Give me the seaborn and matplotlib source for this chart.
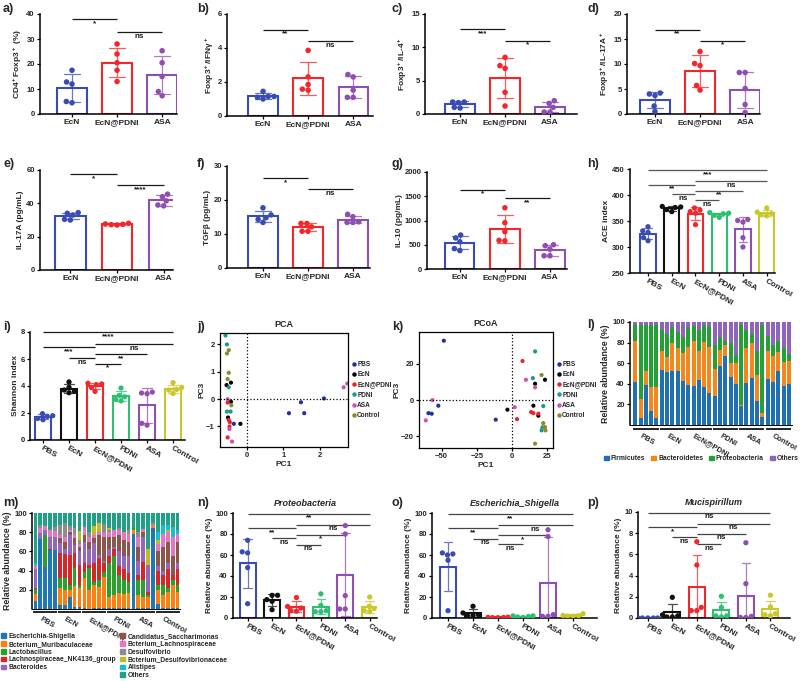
import numpy as np
import pandas as pd
import matplotlib
matplotlib.use("Agg")
import matplotlib.pyplot as plt
import seaborn as sns
from matplotlib.lines import Line2D
from matplotlib.patches import Patch
import warnings
warnings.filterwarnings("ignore")

sns.set_theme(style="ticks")
plt.rcParams['font.family'] = ['Liberation Sans', 'DejaVu Sans']
plt.rcParams['font.weight'] = 'bold'
plt.rcParams['axes.labelweight'] = 'bold'
plt.rcParams['axes.titleweight'] = 'bold'
plt.rcParams['mathtext.fontset'] = 'custom'
plt.rcParams['mathtext.rm'] = 'Liberation Sans:bold'
plt.rcParams['mathtext.bf'] = 'Liberation Sans:bold'
plt.rcParams['mathtext.it'] = 'Liberation Sans:italic:bold'
plt.rcParams['mathtext.default'] = 'rm'

# ----------------------------- data -----------------------------
G3 = ["EcN", "EcN@PDNI", "ASA"]
G6 = ["PBS", "EcN", "EcN@PDNI", "PDNI", "ASA", "Control"]

a_vals = [[17.5, 12.8, 12.0, 4.5, 5.0], [28.0, 24.0, 20.5, 17.5, 13.0], [25.3, 20.5, 15.0, 9.0, 7.3]]
b_vals = [[1.45, 1.15, 1.15, 1.10, 1.00], [3.86, 2.30, 1.85, 1.58, 1.52], [2.44, 2.30, 1.52, 1.10, 1.10]]
c_vals = [[1.8, 1.8, 1.7, 1.0, 0.9], [8.5, 7.25, 6.85, 3.25, 1.2], [2.0, 1.6, 1.0, 0.3, 0.3]]
d_vals = [[4.2, 4.0, 3.7, 1.6, 0.5], [12.5, 10.1, 9.7, 5.7, 4.8], [8.3, 8.3, 5.1, 1.9, 0.3]]
e_vals = [[34.4, 34.0, 33.0, 30.4, 30.0], [28.0, 27.6, 27.4, 27.2, 27.0], [45.5, 44.0, 41.5, 39.0, 38.5]]
f_vals = [[17.7, 15.6, 14.8, 14.3, 13.4], [13.1, 13.1, 12.1, 10.8, 10.8], [15.8, 15.1, 13.6, 13.4, 13.4]]
g_vals = [[700, 640, 560, 420, 380], [1262, 955, 770, 590, 580], [500, 480, 410, 273, 273]]
h_vals = [[339, 331, 328, 318, 312], [378, 377, 376, 372, 368], [375, 371, 368, 365, 343],
          [366, 365, 364, 361, 357], [353, 351, 348, 318, 300], [375, 367, 364, 362, 360]]
i_vals = [[1.95, 1.8, 1.75, 1.6, 1.5], [4.3, 3.9, 3.7, 3.6, 3.5], [4.2, 4.15, 4.1, 3.9, 3.6],
          [3.85, 3.3, 3.2, 3.0, 2.9], [3.55, 3.48, 3.43, 1.23, 1.1], [4.25, 3.9, 3.75, 3.7, 3.45]]
n_vals = [[74, 63, 62, 48, 13.6], [21.6, 21.6, 17.5, 15.9, 7.9], [19.5, 11, 9.5, 7, 6.5],
          [23, 12, 7, 6, 6], [88, 80, 21.3, 8.6, 8.6], [20, 11, 9, 7, 6]]
o_vals = [[62, 61, 60, 55, 7], [11.2, 4.8, 3.2, 2.2, 2.2], [0.8, 0.6, 0.5, 0.4, 0.3],
          [2, 2, 1.5, 1, 0.5], [84, 77.6, 3.2, 1.6, 1.6], [4.1, 2.5, 2.2, 1.8, 1.6]]
p_vals = [[0, 0, 0, 0, 0], [1.95, 0.3, 0.2, 0.1, 0.1], [7.2, 5.0, 1.0, 0.7, 0.7],
          [2.05, 1.0, 0.2, 0.2, 0.1], [7.1, 3.24, 0.15, 0.05, 0.05], [2.15, 1.05, 0.4, 0.3, 0.2]]

# significance annotations: (group i, group j, height, label)
a_sig = [(0, 1, 37.9, '*'), (1, 2, 32.9, 'ns')]
b_sig = [(0, 1, 5.07, '**'), (1, 2, 4.39, 'ns')]
c_sig = [(0, 1, 12.7, '***'), (1, 2, 11.0, '*')]
d_sig = [(0, 1, 16.9, '**'), (1, 2, 14.7, '*')]
e_sig = [(0, 1, 57.6, '*'), (1, 2, 51.0, '****')]
f_sig = [(0, 1, 26.4, '*'), (1, 2, 23.2, 'ns')]
g_sig = [(0, 1, 1638, '*'), (1, 2, 1454, '**')]
h_sig = [(0, 5, 448, '***'), (2, 5, 427, 'ns'), (0, 2, 420, '**'), (2, 4, 408, '**'), (1, 2, 401, 'ns'), (2, 3, 390, 'ns')]
i_sig = [(0, 5, 8.0, '****'), (2, 5, 7.13, 'ns'), (0, 2, 6.86, '***'), (2, 4, 6.37, '**'), (1, 2, 6.05, 'ns'), (2, 3, 5.64, '*')]
n_sig = [(0, 5, 99.4, '**'), (2, 5, 89, 'ns'), (0, 2, 85.7, '**'), (2, 4, 79.4, '*'), (1, 2, 76, 'ns'), (2, 3, 70, 'ns')]
o_sig = [(0, 5, 99, '**'), (2, 5, 88.8, 'ns'), (0, 2, 85.3, '**'), (2, 4, 79, '*'), (1, 2, 75.7, 'ns'), (2, 3, 70.3, 'ns')]
p_sig = [(0, 5, 9.95, 'ns'), (2, 5, 8.9, 'ns'), (0, 2, 8.58, '*'), (2, 4, 7.96, 'ns'), (1, 2, 7.64, 'ns'), (2, 3, 7.0, 'ns')]

# PCA / PCoA coordinates per group (PBS, EcN, EcN@PDNI, PDNI, ASA, Control)
j_pc1 = [[-0.36, 1.48, 1.15, 1.57, 2.11], [-0.56, -0.44, -0.44, -0.52, -0.18], [-0.53, -0.50, -0.47, -0.48, -0.53],
         [-0.59, -0.55, -0.50, -0.55, -0.45], [-0.53, -0.48, -0.41, 2.65, 2.75], [-0.55, -0.50, -0.50, -0.53, -0.43]]
j_pc3 = [[-0.91, -0.12, -0.52, -0.52, 0.02], [0.51, 0.60, -0.10, -0.68, -0.91], [-0.13, -0.77, -0.85, -1.01, -1.41],
         [2.33, 2.00, 0.43, -0.46, -0.46], [-0.01, -1.10, -1.56, 0.43, 0.57], [1.67, 1.79, 0.96, 0.73, -0.23]]
k_pc1 = [[-48.4, -52.3, -59.3, -57.0, -11.6], [-3.3, 15.1, 16.3, 23.3, 18.6], [7.4, 3.5, 13.5, 15.1, 18.6],
         [16.3, 14.7, 22.1, 20.9, 21.5], [-56.5, -61.2, 1.9, 9.8, 16.3], [20.9, 22.1, 23.3, 23.7, 16.3]]
k_pc3 = [[32.7, -3.1, -7.2, -7.5, -10.8], [-5.3, -3.1, 9.0, 11.2, -8.6], [21.5, -10.5, -6.6, -7.2, -7.5],
         [26.8, 12.1, -3.3, -16.7, -15.0], [0.0, -11.2, -3.9, 11.2, 7.0], [13.8, -12.7, -14.9, -16.7, -24.0]]

# l) phylum-level relative abundance, 30 samples (5 per group)
phyla = ["Firmicutes", "Bacteroidetes", "Proteobacteria", "Others"]
firmicutes = [42, 7, 39, 14, 7, 53, 51, 52, 52, 43, 39, 38, 44, 37, 31, 28, 57, 67, 47, 40, 18, 41, 46, 23, 8, 45, 42, 52, 38, 40]
bacteroidetes = [40, 18, 13, 23, 30, 19, 15, 28, 23, 27, 37, 44, 28, 44, 45, 26, 16, 11, 13, 20, 1.5, 34, 34, 26, 3.5, 27, 25, 19, 23, 22]
proteobacteria = [15, 72, 45, 60, 60, 20, 22, 15, 15, 15, 19, 14, 20, 16, 19, 24, 12, 4, 20, 8, 77.5, 17, 8, 23, 85.5, 14, 11, 11, 14, 7]
phylum_others = [3, 3, 3, 3, 3, 8, 12, 5, 10, 15, 5, 4, 8, 3, 5, 22, 15, 18, 20, 32, 3, 8, 12, 28, 3, 14, 22, 18, 25, 31]

# m) genus-level relative abundance
genera = ["Escherichia-Shigella", "Bcterium_Muribaculaceae", "Lactobacillus", "Lachnospiraceae_NK4136_group",
          "Bacteroides", "Candidatus_Saccharimonas", "Bcterium_Lachnospiraceae", "Desulfovibrio",
          "Bcterium_Desulfovibrionaceae", "Alistipes", "Others"]
esch = [8, 72.5, 44, 61, 61, 4, 4, 13, 2, 2, 1.5, 0.5, 1.5, 1.5, 1.5, 1, 1, 1, 1, 1, 78, 1, 1, 1, 84, 5, 1, 1, 1, 1]
muri = [8, 0, 0, 0, 0, 17.5, 16, 7, 22, 19.5, 30.5, 19.5, 23.5, 21.5, 32, 11, 14, 16, 15, 16, 4, 14, 11, 12, 2, 15, 14, 17, 24, 17]
lacto = [4.5, 0, 33, 0, 0, 10.5, 12, 5, 18.5, 3.5, 7, 22.5, 3.6, 7, 5, 36, 40, 18, 14, 11, 3, 15, 18, 2, 0, 5, 10, 4, 5, 7]
lachno = [1, 0, 0, 1.5, 0, 26, 25, 31, 15.5, 21, 9, 3.5, 19, 23, 9, 7, 7, 10, 12, 10, 0, 5, 19, 3, 0, 15, 10, 20, 5, 17]
bacteroides = [20, 6.5, 5, 12.5, 14, 10.5, 6, 21, 9, 14, 22, 17, 21, 3, 3, 7, 3, 15, 13, 17, 0, 15, 26, 28, 0, 5, 5, 6, 0, 6]
candidatus = [0, 0, 0, 0, 0, 5.5, 7, 3, 7, 5, 7, 7, 5.4, 21, 24.5, 13, 10, 17, 17, 15, 0, 15, 5, 0, 0, 15, 25, 22, 20, 22]
b_lachno = [3.5, 5, 4, 7, 6, 3, 5, 2.5, 3, 3, 8, 5, 3, 3, 4, 5, 7, 5, 8, 8, 0, 10, 3, 0, 2, 8, 13, 10, 20, 8]
desulfo = [0, 4, 0, 0, 4, 11, 14.5, 3.5, 7, 4, 0, 5, 0, 0, 10, 2, 0, 2, 0, 4, 0, 5, 0, 0, 2, 0, 0, 0, 0, 0]
b_desulfo = [0, 0, 0, 0, 0, 0, 0, 0, 0, 9, 0, 0, 9, 10, 0, 2, 0, 0, 0, 0, 0, 0, 0, 16, 0, 4, 0, 2, 0, 0]
alistipes = [3, 0, 0, 0, 0, 0, 0, 0, 0, 0, 0, 0, 0, 0, 0, 0, 0, 0, 0, 0, 0, 0, 0, 0, 0, 8, 10, 6, 10, 4]
genus_others = [52, 12, 14, 18, 15, 12, 10.5, 14, 16, 19, 15, 20, 14, 10, 11, 16, 18, 16, 20, 18, 15, 20, 17, 38, 10, 20, 12, 12, 15, 18]

# ----------------------------- styles -----------------------------
C3 = ["#3a4cb1", "#f2262b", "#8f4fb1"]
C6 = ["#3a4cb1", "#111111", "#f2262b", "#2fbf72", "#8f4fb1", "#c9c72c"]
SC6 = ["#23309c", "#000000", "#e8232a", "#189b8b", "#d04fb9", "#8a8b2a"]
PHY_C = ["#1f6fb3", "#f5861c", "#25a036", "#9064bd"]
GEN_C = ["#1f77b4", "#ff7f0e", "#2ca02c", "#d62728", "#9467bd", "#8c564b", "#e377c2", "#8c8c8c",
         "#bcbd22", "#17becf", "#1fa187"]

W, H = 800, 681
fig = plt.figure(figsize=(8, 6.81), dpi=100)


def add_ax(x0, ytop, x1, ybot):
    return fig.add_axes([x0 / W, 1 - ybot / H, (x1 - x0) / W, (ybot - ytop) / H])


def style_ax(ax, box=False):
    for s in ['top', 'right']:
        ax.spines[s].set_visible(box)
    for s in ax.spines:
        ax.spines[s].set_linewidth(1.1 if not box else 0.9)
        ax.spines[s].set_color('black')
    ax.tick_params(axis='both', which='major', length=2.5, width=0.9, color='black',
                   labelsize=5.5, pad=1.2)


def add_sig(ax, sigs, color='#1a1a1a'):
    for i1, i2, y, txt in sigs:
        ax.plot([i1, i2], [y, y], color=color, lw=0.9, clip_on=False, solid_capstyle='butt')
        ax.annotate(txt, xy=((i1 + i2) / 2, y), xytext=(0, -0.6), textcoords='offset points',
                    ha='center', va='top', fontsize=5.8, color='#1a1a1a', annotation_clip=False)


def bar_panel(ax, groups, values, colors, ylim, yticks, ylabel, xlim, sigs, rot=False,
              sigcolor='#1a1a1a', dotsize=4.0):
    df = pd.DataFrame({'group': np.repeat(groups, [len(v) for v in values]),
                       'value': np.concatenate([np.asarray(v, float) for v in values])})
    for g, c in zip(groups, colors):
        sns.barplot(data=df[df['group'] == g], x='group', y='value', order=groups, color=c,
                    saturation=1, fill=False, linewidth=1.5, width=0.65, errorbar='sd',
                    capsize=0.35, err_kws={'color': c, 'linewidth': 0.9, 'alpha': 0.75}, ax=ax)
    sns.swarmplot(data=df, x='group', y='value', order=groups, hue='group', hue_order=groups,
                  palette=colors, size=dotsize, legend=False, ax=ax)
    style_ax(ax)
    ax.set_xlim(*xlim)
    ax.set_ylim(*ylim)
    ax.set_yticks(yticks)
    ax.set_xlabel('')
    ax.set_ylabel(ylabel, fontsize=6, labelpad=1.5)
    if rot:
        plt.setp(ax.get_xticklabels(), rotation=-30, ha='left', rotation_mode='anchor', fontsize=6)
    else:
        plt.setp(ax.get_xticklabels(), fontsize=6)
    add_sig(ax, sigs, sigcolor)


def scatter_panel(ax, xs, ys, xlim, ylim, xticks, yticks, title):
    df = pd.DataFrame({'PC1': np.concatenate(xs), 'PC3': np.concatenate(ys),
                       'group': np.repeat(G6, [len(v) for v in xs])})
    sns.scatterplot(data=df, x='PC1', y='PC3', hue='group', hue_order=G6, palette=SC6,
                    s=9, linewidth=0, legend=False, ax=ax)
    ax.axvline(0, color='black', ls=':', lw=0.9)
    ax.axhline(0, color='black', ls=':', lw=0.9)
    style_ax(ax, box=True)
    ax.set_xlim(*xlim)
    ax.set_ylim(*ylim)
    ax.set_xticks(xticks)
    ax.set_yticks(yticks)
    ax.set_xlabel('PC1', fontsize=6, labelpad=1.5)
    ax.set_ylabel('PC3', fontsize=6, labelpad=0.5)
    ax.set_title(title, fontsize=6.5, pad=4)
    handles = [Line2D([], [], marker='o', ls='', markersize=2.2, color=c, label=g) for g, c in zip(G6, SC6)]
    ax.legend(handles=handles, loc='center left', bbox_to_anchor=(1.0, 0.5), frameon=False,
              fontsize=4.7, handletextpad=0.05, labelspacing=0.5, borderaxespad=0.15, handlelength=0.8)


def stacked_panel(ax, series, colors, xlim):
    tops = np.cumsum(np.array(series, float), axis=0)
    ids = np.arange(tops.shape[1])
    for k in range(len(series) - 1, -1, -1):
        sns.barplot(x=ids, y=tops[k], color=colors[k], saturation=1, width=0.76,
                    errorbar=None, linewidth=0, ax=ax)
    style_ax(ax)
    ax.spines['bottom'].set_linewidth(0.7)
    ax.set_xlim(*xlim)
    ax.set_ylim(0, 100)
    ax.set_yticks([20, 40, 60, 80, 100])
    ax.set_xticks([])
    ax.set_ylabel('Relative abundance (%)', fontsize=6.3, labelpad=1.5)
    trans = ax.get_xaxis_transform()
    for gi, g in enumerate(G6):
        ax.plot([gi * 5 - 0.4, gi * 5 + 4.4], [-0.035, -0.035], transform=trans, color='black',
                lw=1.2, clip_on=False, solid_capstyle='butt')
        ax.text(gi * 5 + 1.3, -0.07, g, transform=trans, rotation=-30, ha='left', va='top',
                rotation_mode='anchor', fontsize=5.5)


# ----------------------------- row 1 -----------------------------
ax = add_ax(40, 14, 177, 114)
bar_panel(ax, G3, a_vals, C3, (0, 40), [0, 10, 20, 30, 40], r'CD4$^+$Foxp3$^+$ (%)', (-0.71, 2.33), a_sig)
ax = add_ax(227, 14, 373, 116)
bar_panel(ax, G3, b_vals, C3, (0, 6), [0, 2, 4, 6], r'Foxp3$^+$/IFNγ$^+$', (-0.8, 2.44), b_sig)
ax = add_ax(425, 14, 577, 114)
bar_panel(ax, G3, c_vals, C3, (0, 15), [0, 5, 10, 15], r'Foxp3$^+$/IL-4$^+$', (-0.78, 2.6), c_sig)
ax = add_ax(627, 14, 760, 114)
bar_panel(ax, G3, d_vals, C3, (0, 20), [0, 5, 10, 15, 20], r'Foxp3$^+$/IL-17A$^+$', (-0.62, 2.33), d_sig)

# ----------------------------- row 2 -----------------------------
ax = add_ax(40, 170, 173, 270)
bar_panel(ax, G3, e_vals, C3, (0, 60), [0, 20, 40, 60], 'IL-17A (pg/mL)', (-0.65, 2.2), e_sig)
ax = add_ax(227, 166, 370, 268)
bar_panel(ax, G3, f_vals, C3, (0, 30), [0, 10, 20, 30], 'TGFβ (pg/mL)', (-0.8, 2.38), f_sig)
ax = add_ax(427, 172, 567, 269)
bar_panel(ax, G3, g_vals, C3, (0, 2000), [0, 500, 1000, 1500, 2000], 'IL-10 (pg/mL)', (-0.73, 2.38), g_sig)
ax = add_ax(630, 169, 775, 273)
bar_panel(ax, G6, h_vals, C6, (250, 450), [250, 300, 350, 400, 450], 'ACE index', (-0.76, 5.35), h_sig,
          rot=True, sigcolor='#555555', dotsize=3.8)

# ----------------------------- row 3 -----------------------------
ax = add_ax(30, 332, 185, 440)
bar_panel(ax, G6, i_vals, C6, (0, 8), [0, 2, 4, 6, 8], 'Shannon index', (-0.5, 5.46), i_sig,
          rot=True, dotsize=3.8)
ax = add_ax(220, 333, 348, 447)
scatter_panel(ax, j_pc1, j_pc3, (-0.74, 2.77), (-1.76, 2.42), [0, 1, 2], [-1, 0, 1, 2], 'PCA')
ax = add_ax(419, 332, 553, 448)
scatter_panel(ax, k_pc1, k_pc3, (-66, 29), (-26.4, 37.5), [-50, -25, 0, 25], [-20, 0, 20], 'PCoA')
ax = add_ax(630, 322, 792, 425)
stacked_panel(ax, [firmicutes, bacteroidetes, proteobacteria, phylum_others], PHY_C, (-1.0, 29.6))
ax.legend(handles=[Patch(color=c, label=n) for n, c in zip(phyla, PHY_C)], loc='center',
          bbox_to_anchor=(0.44, -0.33), ncol=4, frameon=False, fontsize=4.9, handlelength=0.7,
          handleheight=0.7, handletextpad=0.3, columnspacing=0.9, borderaxespad=0)

# ----------------------------- row 4 -----------------------------
ax = add_ax(32, 513, 180, 609)
stacked_panel(ax, [esch, muri, lacto, lachno, bacteroides, candidatus, b_lachno, desulfo, b_desulfo,
                   alistipes, genus_others], GEN_C, (-0.7, 29.5))
gh = [Patch(color=c, label=n) for n, c in zip(genera, GEN_C)]
gh = gh[:5] + [Patch(color='none', label='')] + gh[5:]
fig.legend(handles=gh, loc='upper left', bbox_to_anchor=(1 / W, 1 - 633 / H), ncol=2, frameon=False,
           fontsize=4.9, handlelength=0.7, handleheight=0.7, handletextpad=0.4, columnspacing=0.6,
           labelspacing=0.12, borderaxespad=0, borderpad=0)

ax = add_ax(233, 513, 377, 618)
bar_panel(ax, G6, n_vals, C6, (0, 100), [0, 20, 40, 60, 80, 100], 'Relative abundance (%)', (-0.6, 5.3),
          n_sig, rot=True, sigcolor='#444444', dotsize=3.8)
ax.set_title('Proteobacteria', fontsize=6.5, fontstyle='italic', pad=5)
ax = add_ax(432, 513, 597, 618)
bar_panel(ax, G6, o_vals, C6, (0, 100), [0, 20, 40, 60, 80, 100], 'Relative abundance (%)', (-0.64, 5.96),
          o_sig, rot=True, sigcolor='#444444', dotsize=3.8)
ax.set_title('Escherichia_Shigella', fontsize=6.5, fontstyle='italic', pad=5)
ax = add_ax(638, 512, 790, 618)
bar_panel(ax, G6, p_vals, C6, (0, 10), [0, 2, 4, 6, 8, 10], 'Relative abundance (%)', (-0.4, 5.8),
          p_sig, rot=True, sigcolor='#444444', dotsize=3.8)
ax.set_title('Mucispirillum', fontsize=6.5, fontstyle='italic', pad=5)

# ----------------------------- panel letters -----------------------------
letters = [("a)", 3, 9), ("b)", 197, 9), ("c)", 392, 9), ("d)", 587, 9),
           ("e)", 3, 164), ("f)", 197, 164), ("g)", 392, 164), ("h)", 587, 164),
           ("i)", 3, 327), ("j)", 197, 327), ("k)", 392, 327), ("l)", 587, 325),
           ("m)", 3, 503), ("n)", 197, 503), ("o)", 392, 503), ("p)", 587, 503)]
for t, x, y in letters:
    fig.text(x / W, 1 - y / H, t, fontsize=9, fontweight='bold', ha='left', va='center')

fig.savefig("out.png", dpi=100)
